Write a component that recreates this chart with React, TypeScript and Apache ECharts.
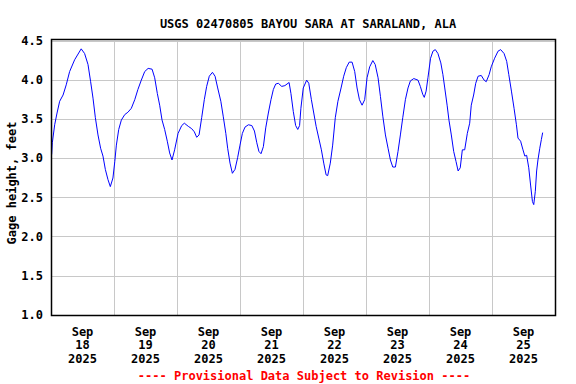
import React, { useEffect, useRef } from "react";
import * as echarts from "echarts";

const titleText = "USGS 02470805 BAYOU SARA AT SARALAND, ALA";
const footerText = "---- Provisional Data Subject to Revision ----";
const yAxisName = "Gage height, feet";
const dayLabels = ["Sep\n18\n2025", "Sep\n19\n2025", "Sep\n20\n2025", "Sep\n21\n2025", "Sep\n22\n2025", "Sep\n23\n2025", "Sep\n24\n2025", "Sep\n25\n2025"];

// hours since Sep 18 2025 00:00
const hours = [
  0.25, 0.5, 1.4, 2.3, 3.3, 4.6, 5.8, 7.1, 9.0, 11.5, 12.8, 14.1, 15.1, 16.0, 16.9, 17.9, 18.9, 19.8, 20.7, 21.7, 22.6, 23.6,
  24.3, 24.9, 25.8, 26.8, 28.1, 29.3, 30.6, 31.9, 33.1, 34.4, 35.7, 37.0, 38.5, 39.5, 40.5, 41.4, 42.3, 43.3, 44.3, 45.2, 46.1, 47.1,
  48.4, 49.8, 50.8, 52.3, 53.6, 54.6, 55.5, 56.4, 57.4, 58.4, 59.3, 60.3, 61.5, 62.5, 63.5, 64.7, 65.6, 66.6, 67.3, 68.2, 69.1, 70.1, 71.1,
  72.0, 72.9, 73.9, 75.2, 76.5, 77.5, 78.4, 79.2, 80.0, 80.9, 81.8, 82.8, 83.8, 84.7, 85.6, 86.6, 87.9, 89.1, 90.7, 91.4, 92.3, 93.2, 94.0, 94.7, 95.2,
  96.1, 97.4, 98.2, 99.2, 100.1, 101.0, 102.0, 103.0, 103.9, 104.8, 105.4, 106.4, 107.3, 108.3, 109.3, 110.5, 111.5, 112.5, 113.6, 114.7, 115.7, 116.6, 117.5, 118.5, 119.5,
  120.4, 121.4, 122.6, 123.5, 124.6, 125.5, 126.4, 127.4, 128.4, 129.3, 130.2, 131.2, 132.2, 133.1, 134.0, 135.0, 136.0, 136.9, 138.2, 139.8, 140.7, 141.6, 142.2, 142.9, 143.6,
  144.6, 145.5, 146.4, 147.4, 148.5, 149.3, 150.0, 150.9, 151.6, 152.5, 153.4, 154.3, 155.1, 155.9, 156.7, 157.6, 158.6, 159.5, 160.1, 161.0, 161.8, 162.7, 163.9, 165.0, 165.8, 166.9, 167.7,
  169.0, 170.3, 171.3, 172.6, 173.6, 174.4, 175.4, 176.4, 177.3, 177.9, 178.9, 179.8, 180.5, 181.2, 182.0, 182.7, 183.4, 183.9, 184.5, 185.0, 185.5, 186.2, 186.8, 187.3
];

const gageHeight = [
  3.05, 3.20, 3.43, 3.58, 3.73, 3.81, 3.94, 4.11, 4.26, 4.40, 4.34, 4.20, 3.98, 3.77, 3.52, 3.30, 3.13, 3.03, 2.86, 2.73, 2.64, 2.75,
  2.96, 3.17, 3.37, 3.49, 3.56, 3.59, 3.64, 3.75, 3.88, 4.00, 4.11, 4.15, 4.14, 4.03, 3.83, 3.68, 3.49, 3.37, 3.22, 3.07, 2.98, 3.11,
  3.32, 3.42, 3.45, 3.41, 3.38, 3.34, 3.27, 3.30, 3.52, 3.75, 3.92, 4.05, 4.10, 4.05, 3.90, 3.73, 3.54, 3.32, 3.13, 2.94, 2.81, 2.86, 3.01,
  3.17, 3.32, 3.40, 3.43, 3.42, 3.35, 3.20, 3.09, 3.06, 3.15, 3.39, 3.58, 3.75, 3.88, 3.95, 3.96, 3.92, 3.93, 3.97, 3.83, 3.60, 3.42, 3.37, 3.42, 3.64,
  3.90, 4.00, 3.96, 3.75, 3.58, 3.41, 3.26, 3.11, 2.94, 2.79, 2.78, 2.94, 3.17, 3.52, 3.73, 3.90, 4.05, 4.16, 4.23, 4.23, 4.11, 3.90, 3.75, 3.68, 3.75,
  4.03, 4.17, 4.25, 4.20, 4.03, 3.79, 3.54, 3.30, 3.13, 2.98, 2.89, 2.89, 3.09, 3.30, 3.52, 3.75, 3.90, 3.99, 4.02, 4.00, 3.92, 3.82, 3.78, 3.86, 4.03,
  4.28, 4.37, 4.39, 4.34, 4.22, 4.07, 3.90, 3.68, 3.49, 3.30, 3.09, 2.96, 2.84, 2.88, 3.11, 3.11, 3.32, 3.45, 3.68, 3.81, 3.96, 4.05, 4.06, 4.00, 3.98, 4.07, 4.17,
  4.28, 4.37, 4.39, 4.34, 4.24, 4.07, 3.86, 3.64, 3.43, 3.26, 3.22, 3.11, 3.03, 3.04, 2.88, 2.66, 2.45, 2.41, 2.58, 2.84, 2.98, 3.13, 3.24, 3.33
];

const FONT = "'DejaVu Sans Mono', 'Liberation Mono', monospace";

export default function App() {
  const ref = useRef<HTMLDivElement>(null);
  useEffect(() => {
    if (!ref.current) return;
    const chart = echarts.init(ref.current, null, { renderer: "svg" });
    const data = hours.map((h, i) => [h, gageHeight[i]]);
    chart.setOption({
      animation: false,
      backgroundColor: "#ffffff",
      title: {
        text: titleText,
        left: 303,
        top: 13,
        textAlign: "center",
        textStyle: { fontFamily: FONT, fontSize: 12, fontWeight: "bold", color: "#000" },
      },
      grid: { left: 51, top: 41, width: 504, height: 274, show: false, containLabel: false, outerBoundsMode: "none" },
      xAxis: [
        {
          type: "value",
          min: 0,
          max: 192,
          interval: 24,
          axisLine: { show: false },
          axisTick: { show: false },
          axisLabel: { show: false },
          splitLine: { show: true, lineStyle: { color: "#c8c8c8", width: 1 } },
        },
        {
          type: "category",
          position: "bottom",
          data: dayLabels,
          boundaryGap: true,
          axisLine: { show: false },
          axisTick: { show: false },
          splitLine: { show: false },
          axisLabel: {
            margin: 10,
            lineHeight: 13.5,
            fontFamily: FONT,
            fontSize: 12,
            fontWeight: "bold",
            color: "#000",
          },
        },
      ],
      yAxis: {
        type: "value",
        min: 1,
        max: 4.5,
        interval: 0.5,
        axisLine: { show: false },
        axisTick: { show: false },
        axisLabel: {
          margin: 8,
          fontFamily: FONT,
          fontSize: 12,
          fontWeight: "bold",
          color: "#000",
          formatter: (v: number) => v.toFixed(1),
        },
        splitLine: { show: true, lineStyle: { color: "#c8c8c8", width: 1 } },
      },
      graphic: [
        {
          type: "rect",
          shape: { x: 51.5, y: 39.5, width: 504, height: 276 },
          style: { fill: "none", stroke: "#000", lineWidth: 1.5 },
          z: 100,
        },
        {
          type: "text",
          x: 12,
          y: 183,
          rotation: Math.PI / 2,
          style: {
            text: yAxisName,
            fill: "#000",
            font: "bold 12px " + FONT,
            textAlign: "center",
            textVerticalAlign: "middle",
          },
        },
        {
          type: "text",
          x: 304,
          y: 376,
          style: {
            text: footerText,
            fill: "#ff0000",
            font: "bold 12px " + FONT,
            textAlign: "center",
            textVerticalAlign: "middle",
          },
        },
      ],
      series: [
        {
          type: "line",
          xAxisIndex: 0,
          data,
          showSymbol: false,
          symbol: "none",
          lineStyle: { color: "#0000ff", width: 1 },
          itemStyle: { color: "#0000ff" },
        },
      ],
    });
    return () => chart.dispose();
  }, []);
  return <div ref={ref} style={{ position: "absolute", left: 0, top: 0, width: 576, height: 384 }} />;
}
